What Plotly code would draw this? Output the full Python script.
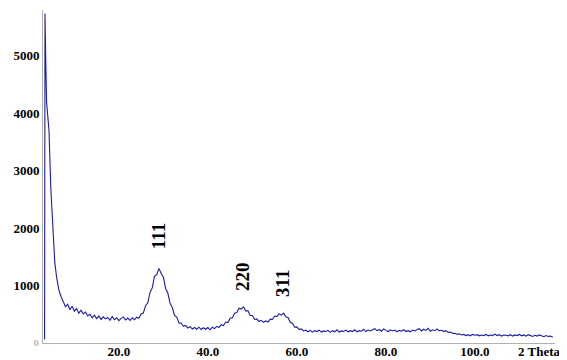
import plotly.graph_objects as go

# --- data ---
# steep low-angle rise (explicit angles)
spike_theta = [3.3, 3.4, 3.55, 3.75, 4.0, 4.3, 4.7, 5.2, 5.6, 6.0, 6.5, 7.0]
spike_counts = [60, 5740, 5000, 4200, 3900, 3700, 2700, 1900, 1400, 1150, 930, 810]

# regular scan 7.5 .. 117.5 deg, step 0.5 deg
scan_start = 7.5
scan_step = 0.5
scan_counts = [
    720, 630, 675, 580, 640, 555, 600, 520, 570, 505,
    540, 470, 500, 440, 485, 425, 470, 410, 455, 420,
    445, 395, 460, 405, 440, 390, 430, 455, 400, 435,
    395, 440, 405, 450, 430, 505, 525, 650, 700, 880,
    960, 1160, 1190, 1300, 1210, 1150, 950, 870, 690, 620,
    480, 450, 350, 345, 290, 305, 260, 285, 245, 270,
    240, 275, 235, 265, 240, 270, 230, 275, 250, 290,
    270, 320, 305, 365, 355, 430, 440, 520, 530, 605,
    590, 630, 560, 560, 480, 480, 410, 420, 375, 395,
    360, 385, 365, 415, 410, 470, 460, 510, 485, 520,
    455, 445, 360, 345, 275, 280, 235, 245, 210, 225,
    195, 220, 190, 215, 200, 225, 190, 210, 200, 220,
    185, 215, 195, 230, 190, 210, 200, 225, 195, 215,
    200, 230, 195, 215, 205, 240, 200, 225, 210, 235,
    250, 215, 235, 205, 245, 220, 200, 230, 210, 225,
    195, 220, 205, 230, 200, 215, 195, 225, 210, 235,
    250, 210, 240, 220, 255, 205, 230, 215, 245, 210,
    225, 200, 215, 185, 190, 165, 170, 150, 160, 140,
    150, 130, 145, 125, 150, 135, 145, 125, 140, 130,
    150, 125, 140, 130, 155, 130, 145, 120, 140, 135,
    125, 145, 120, 140, 130, 150, 125, 140, 120, 145,
    130, 115, 135, 120, 140, 125, 110, 130, 115, 120,
    100,
]

x_ticks = [20, 40, 60, 80, 100]
x_tick_labels = ["20.0", "40.0", "60.0", "80.0", "100.0"]
y_ticks = [1000, 2000, 3000, 4000, 5000]

peak_labels = ["111", "220", "311"]
peak_theta = [28.8, 47.9, 56.9]
peak_label_y = [1860, 1150, 1030]

# --- build ---
scan_theta = [round(scan_start + scan_step * i, 2) for i in range(len(scan_counts))]
theta = spike_theta + scan_theta
counts = spike_counts + scan_counts

serif = "Liberation Serif"

fig = go.Figure()
fig.add_trace(go.Scatter(
    x=theta, y=counts, mode="lines",
    line=dict(color="#1c1ca0", width=1.1),
    hoverinfo="skip", showlegend=False,
))

annotations = []
for lab, xt, yt in zip(peak_labels, peak_theta, peak_label_y):
    annotations.append(dict(
        x=xt, y=yt, xref="x", yref="y", text="<b>%s</b>" % lab, textangle=-90,
        showarrow=False, font=dict(family=serif, size=19, color="black"),
    ))
annotations.append(dict(
    x=1.0, y=0, xref="paper", yref="paper", xanchor="right", yanchor="top",
    yshift=1, xshift=8, text="<b>2 Theta</b>", showarrow=False,
    font=dict(family=serif, size=13, color="black"),
))
annotations.append(dict(
    x=0, y=0, xref="paper", yref="y", xanchor="right", yanchor="middle",
    xshift=-2, text="0", showarrow=False,
    font=dict(family=serif, size=9, color="#888888"),
))

# the page body adds an 8 px offset; the figure is sized to land on the
# reference's pixel positions inside the 567x360 window
fig.update_layout(
    width=559, height=352,
    margin=dict(l=35, r=12, t=2, b=17, autoexpand=False),
    paper_bgcolor="white", plot_bgcolor="white",
    font=dict(family=serif, size=13, color="black"),
    annotations=annotations,
    xaxis=dict(
        range=[2.95, 118], tickvals=x_ticks,
        ticktext=["<b>%s</b>" % t for t in x_tick_labels],
        showgrid=False, zeroline=False, showline=True, automargin=False,
        linecolor="#b0b0b0", linewidth=1, ticks="", ticklen=0,
        ticklabelstandoff=-4,
        tickfont=dict(family=serif, size=13, color="black"),
    ),
    yaxis=dict(
        range=[0, 5800], tickvals=y_ticks,
        ticktext=["<b>%d</b>" % v for v in y_ticks],
        showgrid=False, zeroline=False, showline=True, automargin=False,
        linecolor="#b0b0b0", linewidth=1, ticks="", ticklen=0,
        tickfont=dict(family=serif, size=13, color="black"),
    ),
)

fig.write_html("out.html")
